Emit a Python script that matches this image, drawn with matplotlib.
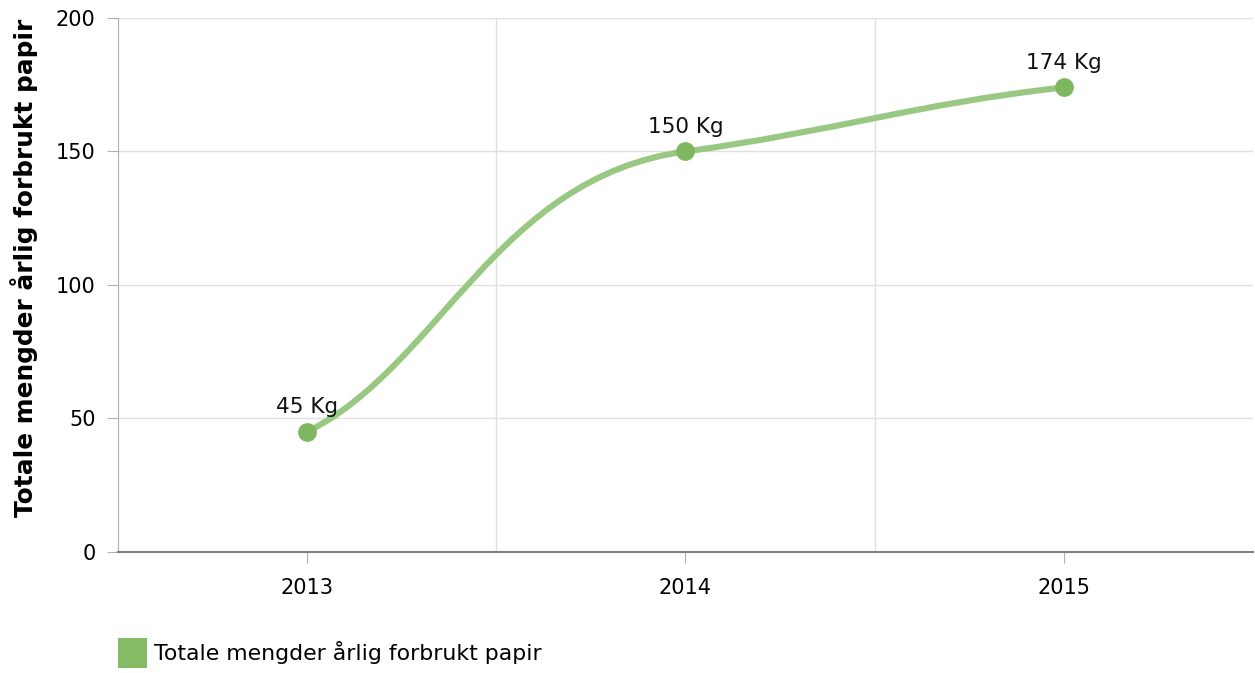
import matplotlib.pyplot as plt
import numpy as np
from matplotlib.path import Path
from matplotlib.patches import PathPatch, Patch

years = ["2013", "2014", "2015"]
values = [45, 150, 174]
labels = ["45 Kg", "150 Kg", "174 Kg"]
series_name = "Totale mengder årlig forbrukt papir"

plt.rcParams['font.family'] = ['DejaVu Sans']


def smooth_path(xs, ys):
    """Cubic bezier through the points (tangents from neighbouring slopes)."""
    n = len(xs)
    slopes = [(ys[i + 1] - ys[i]) / (xs[i + 1] - xs[i]) for i in range(n - 1)]
    # end tangents softened, inner tangents follow the flatter side
    tang = [slopes[0] * 2 / 3]
    for i in range(1, n - 1):
        tang.append(min(slopes[i - 1], slopes[i]) * 0.8)
    tang.append(slopes[-1] * 2 / 3)
    verts = [(xs[0], ys[0])]
    codes = [Path.MOVETO]
    for i in range(n - 1):
        dx = xs[i + 1] - xs[i]
        steep = abs(slopes[i]) > 2 * abs(tang[i + 1])
        ka, kb = (0.35, 0.5) if steep else (0.4, 0.4)
        verts += [(xs[i] + ka * dx, ys[i] + ka * dx * tang[i]),
                  (xs[i + 1] - kb * dx, ys[i + 1] - kb * dx * tang[i + 1]),
                  (xs[i + 1], ys[i + 1])]
        codes += [Path.CURVE4] * 3
    return Path(verts, codes)


x = np.arange(len(years))

fig = plt.figure(figsize=(12.55, 6.73), dpi=100)
ax = fig.add_axes([0.094, 0.18, 0.9044, 0.7933])

line_color = "#98c882"
marker_color = "#7fb761"

ax.add_patch(PathPatch(smooth_path(list(x), values), facecolor="none",
                       edgecolor=line_color, lw=4.4, capstyle="round", zorder=3))
ax.plot(x, values, "o", color=marker_color, markersize=12.5, zorder=4)

for xi, v, lab in zip(x, values, labels):
    ax.annotate(lab, (xi, v), xytext=(0, 10.5), textcoords="offset points",
                ha="center", va="bottom", fontsize=15.5, color="#111111")

ax.set_xlim(-0.5, len(years) - 0.5)
ax.set_ylim(0, 200)
ax.set_yticks([0, 50, 100, 150, 200])
ax.set_xticks(x)
ax.set_xticklabels(years)
ax.set_xticks(np.arange(len(years) - 1) + 0.5, minor=True)

ax.grid(True, axis="y", color="#e0e0e0", lw=1)
ax.grid(True, axis="x", which="minor", color="#e0e0e0", lw=1)
ax.set_axisbelow(True)

for s in ["top", "right"]:
    ax.spines[s].set_visible(False)
ax.spines["left"].set_color("#b0b0b0")
ax.spines["bottom"].set_color("#808080")
ax.spines["bottom"].set_linewidth(1.5)

ax.tick_params(axis="y", length=8, color="#b0b0b0", labelsize=15, pad=8)
ax.tick_params(axis="x", which="major", length=8, color="#b0b0b0",
               labelsize=15, pad=11)
ax.tick_params(axis="x", which="minor", length=0)

ax.set_ylabel(series_name, fontsize=17.8, fontweight="bold")
ax.yaxis.set_label_coords(-0.0705, 0.532)

fig.legend(handles=[Patch(facecolor="#85bb65", edgecolor="none", label=series_name)],
           loc="lower left", bbox_to_anchor=(0.078, -0.022), frameon=False,
           fontsize=15.8, handlelength=1.35, handleheight=1.75, handletextpad=0.3)

fig.savefig("out.png", dpi=100)
